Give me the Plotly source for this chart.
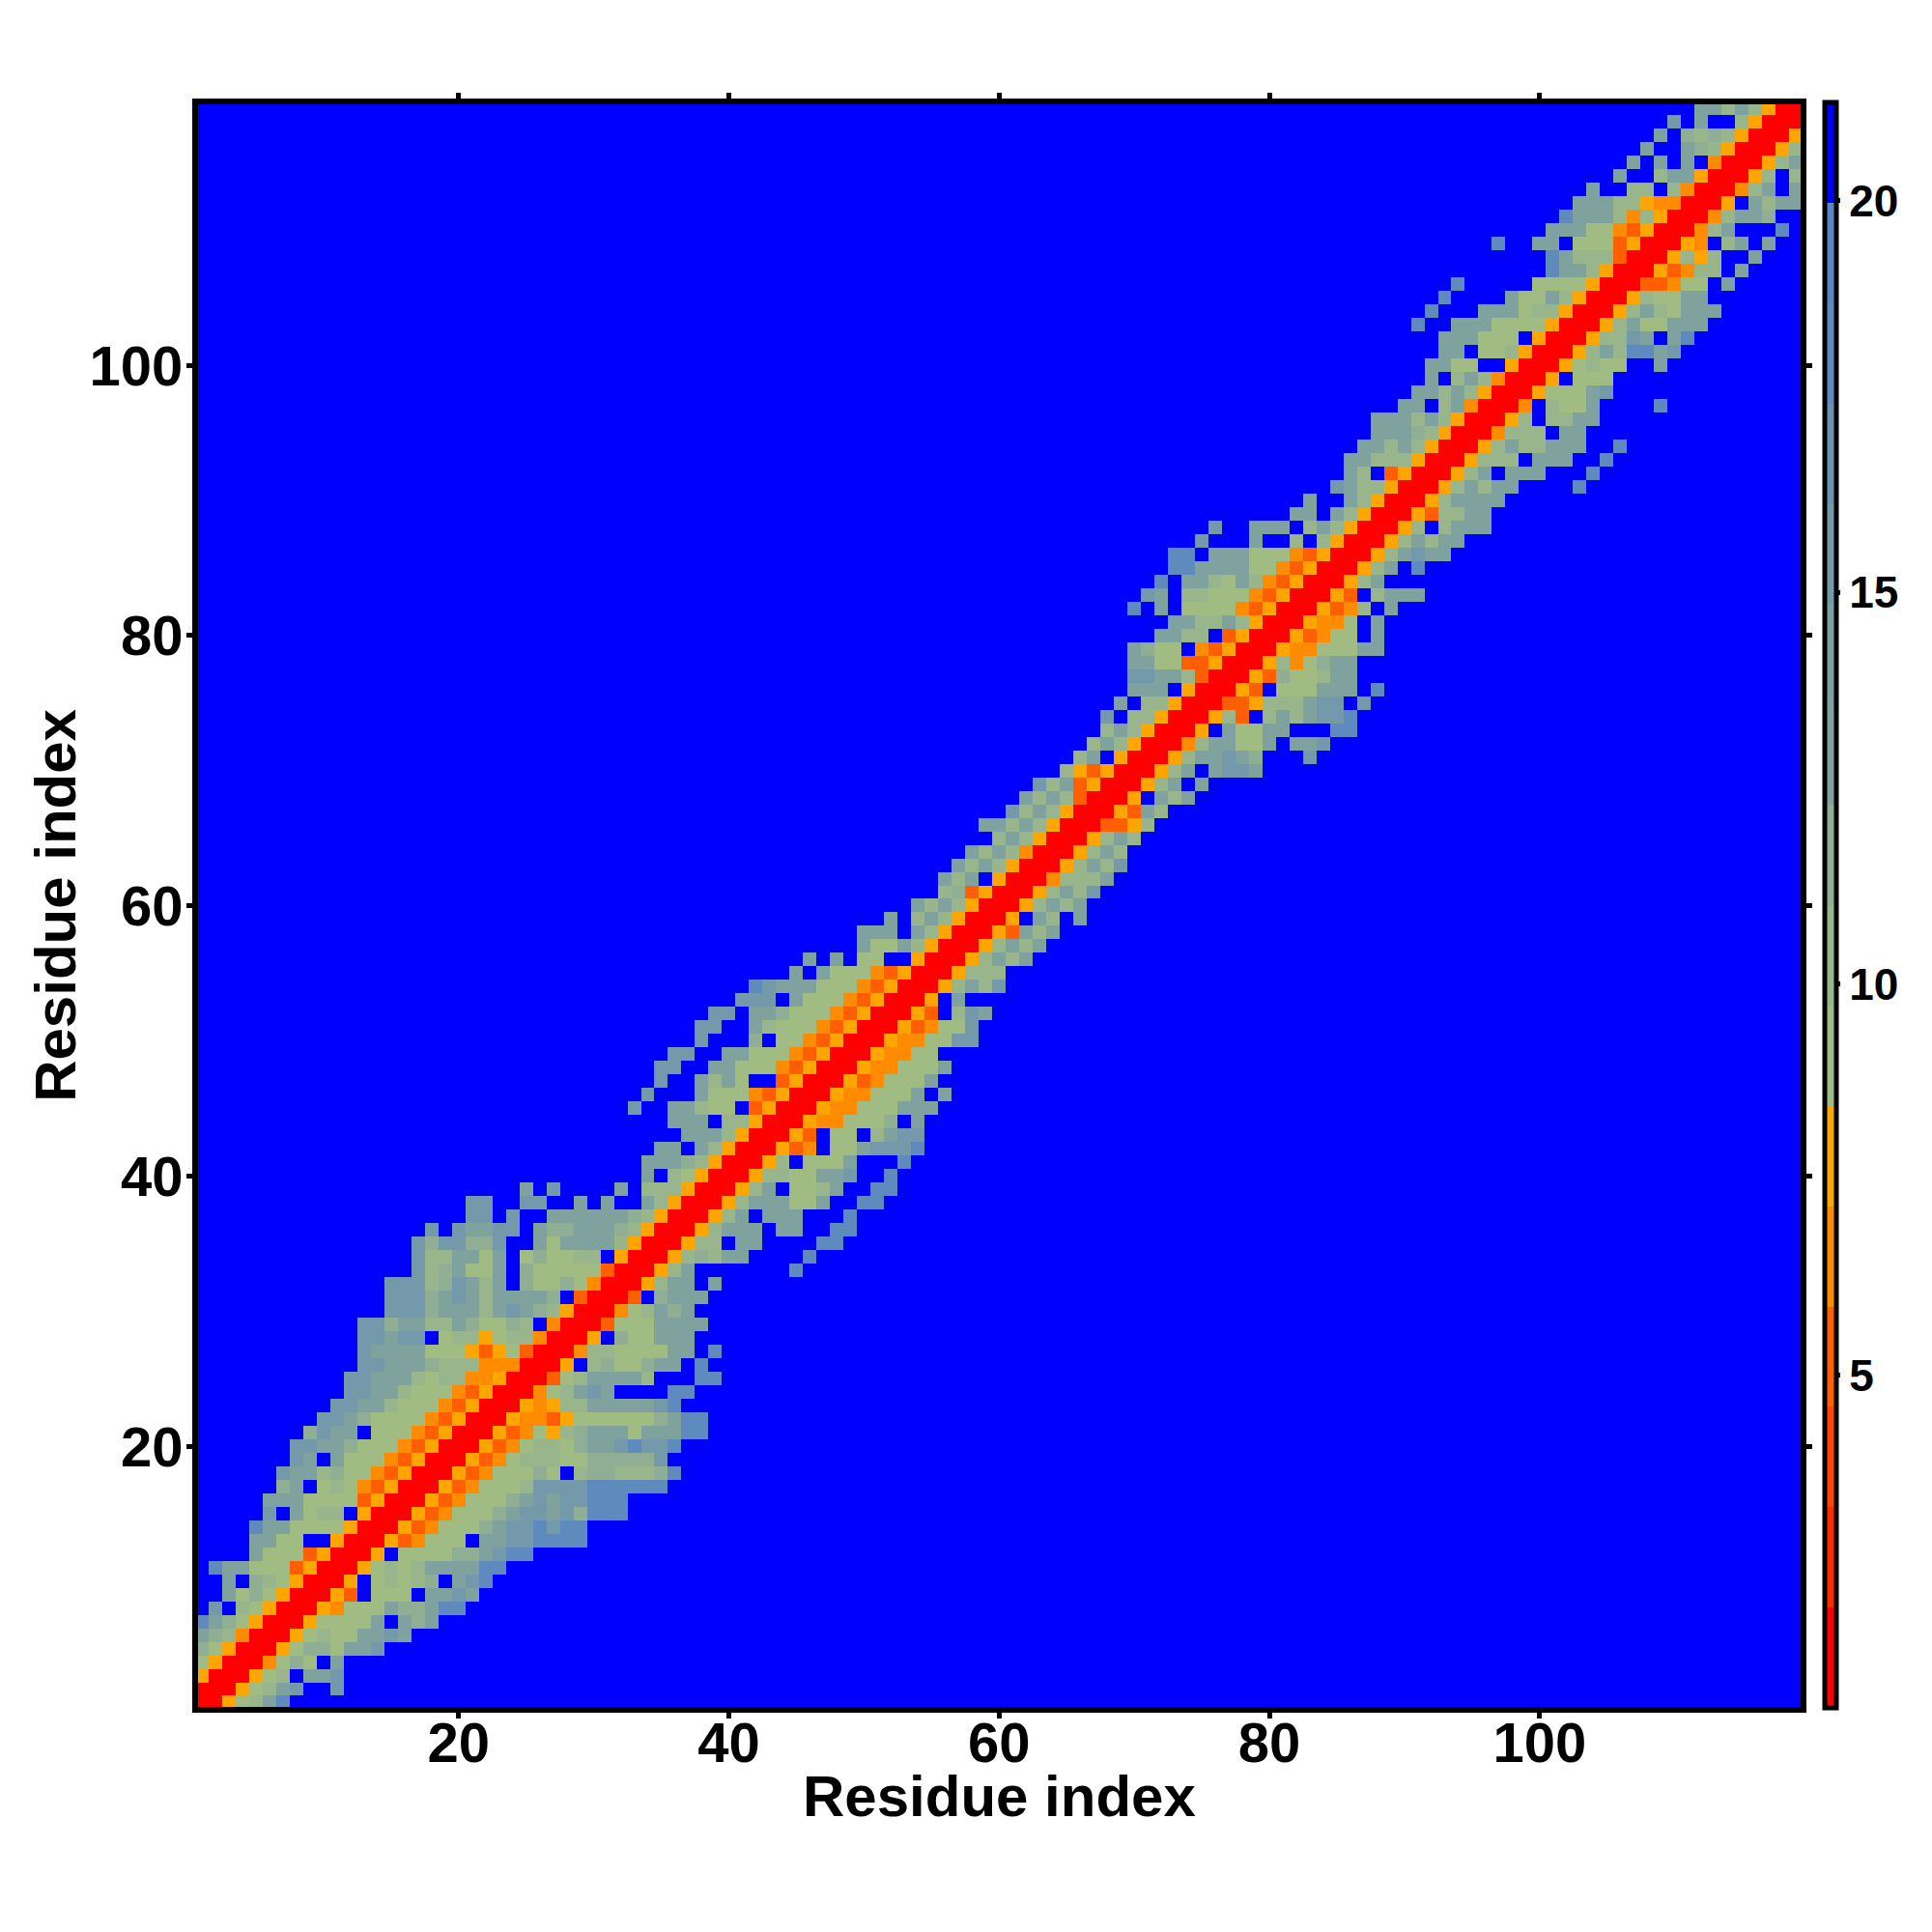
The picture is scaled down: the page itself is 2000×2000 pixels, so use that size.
import plotly.graph_objects as go

residues = list(range(1, 120))

# first coloured column of every row (row 1 at the bottom)
row_start = [1,1,1,1,1,1,1,2,3,3,2,5,5,5,6,6,7,7,8,8,9,10,11,12,12,13,13,13,13,15,
             15,15,17,17,17,18,21,21,25,34,34,35,37,36,33,34,35,35,36,38,38,39,41,42,45,46,50,50,52,54,
             56,56,57,58,60,59,61,62,63,65,66,67,68,68,69,70,70,70,70,72,73,70,71,72,73,73,75,76,82,83,
             85,86,86,87,88,88,90,91,92,92,93,93,91,92,93,94,101,101,97,101,102,103,104,106,107,108,109,110,112]

# cell classes of every row, from row_start rightwards
row_cells = [
"00578ac","000578ab..b","5000578.aab","750004797.a","97500057997aab","a98400057877aaba",
"ca97500057777a.a9a","b.87500054777a99acc","a797500053.777.aaba","a.98750005.78789.abc",
"caa7773500057878aaaacc","a777350005.777799abcc","aa77..5000534777.aabbcccc","caa777750005347779abbcbcc",
"b.a788.50005347779abbab9ccc","aaa7777350005347779ababbccc","9a.7874350005347778bbbbcccccc",
"baa897743500053477797.8998889c","ba.a77743500053478887799999b","bbaa977743500053478879aabcbbc",
"9baa.7774350005347589aaa7aaacc","bba97777435000544357777779acc","bbaa877743500054588aaaaabc",
"bbaa8777435000478aba....cc","bbaaa8788445000378aaaa8...cc","bbaaa98884440005.89779aa.c",
"baaaa777535730004887777aa.c","bbabb.788578840005.977aaa","bb9aa88a97798.40003777aaaa",
"bbb9aaa8aba985000478a9a","bbb9aba8aaaa9.30003.9aaa","bbb89ba8a.97797400058aa.a",
"b89a77a.977777300058a.......c","b88aa7a.797788.50005898aa....c","b9bb99b..a7aaaa85000588.aa....cc",
"b.baabb.a99aaa98500058aaa.aa..cc","bb.b..aaaaaa98500058a.aaa...c","bb..bb..a.a..a8500058aaa77a..cc",
"a.b....a.888500058a.778a..cc","a.87500058877aab..c","aaa98500058.777a...c","aa.a85000534.77abbbc",
"aaa8500053.77.8abb","aaa.8850005447779.a","b..aa877.35000544777aaa","b...a777435000544777a.a",
"b..a8a7..35000534777a","bb..aa777435000544777a","bb..aa77743500054477","b...9.7743500054477bb",
"bb..a877743500053477b","bb.aa977743500053.8ba","bbb.a7774350005.a","cbaaa77743500058a8b",
"a.a7774350005888","a.a.77..500058a8a","a77a8500058a8a","aaa.a8500053a8a","a.8a850005.a8.a",
"a8a8500058a8a","893500058a8b","a8a.50004888a","a8a8500058a8b","a8a8400058a8","8a8500058a8",
"aa8a850003358","b8a8500053a8","a8a830005.a8a","b8a3500058a.a","853500058a.abba",
"8a.500058aaba9...b","8a8500048aa77a.aab","8a850005.a77aa...cc","b.885000583.8a8abbc",
"a.885000335888abb.b","aaa.500053.777aaa.c","bbaa83000539778aa","aa7733500058479aa",
"a977.435000544777aa","aa88.3500053477.a","aa88a850005447.a","c.a.77774350005348.a",
"ba.8877743500053.8aaa","c.aa87a843500058a","ccaaaa7743500058a.c","cc.aaa77743500058abaa",
"b...a..8.8500058a8aa","b..aaa.8a8500058.8aaa","aa.a850005388aa","a..a8500058aaaa",
"ba88500058a8aa....c","a8.3500058a.aaa...c","aa88850005888.aaa..c","aa8a8500058a88aaa..c",
"aaa9850004888.aa","aaa8a8500058.88aa","aa.8a40004.877a....c","aa8a850005777ab","a.8a840005.777",
"aa77..500057877..a","aa.778500058a8ccab","aaa777.5000588ba.ac","c..aaa7777500058a77aaa",
"c...aaa788500058a87aaa","c....a77a850005877aa","c.....7777500033477.a","caa8500053488.a",
"ca88830005858..a","c..aa.7773500054.8a.a","aaa7743500048a...c","caaa848500048aa9",
"aaa885440005.a8aa","a..88.8400048a.a","a..8aa500058.8","a.a.a.400058a","a..a98500058",
"a.989850005","b.a..85000","aa8a8500",
]

# distance value of each cell class
class_value = {"0": 1.4, "3": 5.2, "4": 6.5, "5": 7.8, "7": 9.1, "8": 10.4, "9": 11.7,
               "a": 13.0, "b": 15.5, "c": 18.0, ".": 20.6}
far_value = 20.6

z = [[far_value] * 119 for _ in residues]
for i, (start, cells) in enumerate(zip(row_start, row_cells)):
    for j, ch in enumerate(cells):
        z[i][start - 1 + j] = class_value[ch]

zmin, zmax = 0.75, 21.25
palette = ["#ff0000", "#ff2a00", "#ff4500", "#ff5f00", "#ff8c00", "#ffa500",
           "#a1bc83", "#98b58b", "#8fae93", "#80a29f", "#7da0a3", "#7499ab",
           "#6b92b3", "#5f8abd", "#5a85c4", "#0000ff"]
n = len(palette)
colorscale = []
for k, c in enumerate(palette):
    colorscale.append([k / n, c])
    colorscale.append([(k + 1) / n, c])

x_ticks = [20, 40, 60, 80, 100]
cb_ticks = [5, 10, 15, 20]
FONT = "Liberation Sans"

fig = go.Figure(go.Heatmap(
    x=residues, y=residues, z=z, zmin=zmin, zmax=zmax, colorscale=colorscale,
    hoverongaps=False,
    colorbar=dict(
        x=(1889.5 - 205) / 1659.5, xanchor="left", xpad=0, ypad=0,
        y=-0.0009, yanchor="bottom", len=1.0018, lenmode="fraction",
        thickness=12, thicknessmode="pixels",
        outlinewidth=5, outlinecolor="black",
        tickmode="array", tickvals=cb_ticks, ticktext=[str(v) for v in cb_ticks],
        ticks="outside", ticklen=2, tickwidth=5, tickcolor="black",
        tickfont=dict(family=FONT, size=46, color="black", weight="bold"),
    ),
))

axis = dict(
    range=[0.71, 119.32], tickmode="array", tickvals=x_ticks,
    ticktext=[str(v) for v in x_ticks],
    ticks="outside", ticklen=6, tickwidth=5, tickcolor="black",
    showline=True, linecolor="black", linewidth=6, mirror="ticks",
    showgrid=False, zeroline=False,
    tickfont=dict(family=FONT, size=58, color="black", weight="bold"),
)
fig.update_xaxes(**axis, ticklabelstandoff=-25)
fig.update_yaxes(**axis, ticklabelstandoff=-8)

fig.update_layout(
    width=2000, height=2000, autosize=False,
    paper_bgcolor="white", plot_bgcolor="white",
    margin=dict(l=197, r=143.5, t=100, b=241, autoexpand=False),
    annotations=[
        dict(text="<b>Residue index</b>", xref="paper", yref="paper", x=0.5, y=-0.056,
             xanchor="center", yanchor="middle", showarrow=False,
             font=dict(family=FONT, size=60, color="black")),
        dict(text="<b>Residue index</b>", xref="paper", yref="paper", x=-0.089, y=0.5,
             xanchor="center", yanchor="middle", showarrow=False, textangle=-90,
             font=dict(family=FONT, size=60, color="black")),
    ],
)

fig.write_html("out.html")
